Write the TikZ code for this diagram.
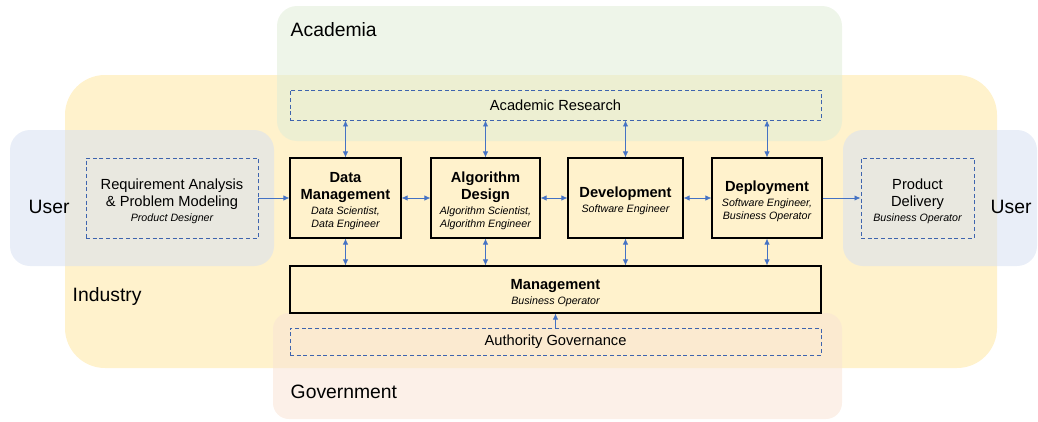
\documentclass[tikz,border=0pt]{standalone}
\usepackage{fontspec}
\setmainfont{Liberation Sans}
\usetikzlibrary{arrows.meta}
\definecolor{industry}{HTML}{FFF2CC}
\definecolor{academia}{HTML}{E0EDD7}
\definecolor{government}{HTML}{F9E4D5}
\definecolor{userbg}{HTML}{D7E0F2}
\definecolor{dashblue}{HTML}{3E64AE}
\definecolor{linkblue}{HTML}{4472C4}
\tikzset{>={Latex[length=4.5pt,width=4pt]}}
\newcommand{\rolefont}{\fontsize{8}{9.75}\selectfont\mdseries\itshape}
\newcommand{\roles}[1]{{\rolefont\begin{tabular}[t]{@{}c@{}}#1\end{tabular}}}
\newcommand{\toppad}{\rule{0pt}{14pt}}

\begin{document}
\begin{tikzpicture}[x=0.75pt,y=-0.75pt,
  region/.style={opacity=0.55},
  regionlabel/.style={anchor=west, font=\fontsize{14.5}{17}\selectfont},
  rolebox/.style={draw=black, line width=0.8pt, inner sep=2pt, align=center,
    font=\fontsize{11}{12.75}\selectfont\bfseries},
  taskbox/.style={draw=dashblue, line width=0.7pt, dash pattern=on 3pt off 2pt,
    inner sep=2pt, align=center, font=\fontsize{11}{12.75}\selectfont},
  link/.style={color=linkblue, line width=0.6pt}]
\useasboundingbox (0,0) rectangle (1038,421);
% backgrounds
\fill[industry, rounded corners=30pt] (65,75) rectangle (997,368);
\fill[academia, region, rounded corners=15pt] (277,6) rectangle (842,141);
\fill[government, region, rounded corners=12pt] (273,313) rectangle (842,419);
\fill[userbg, region, rounded corners=15pt] (10,130) rectangle (274,266);
\fill[userbg, region, rounded corners=15pt] (843,130) rectangle (1037,266);
\node[regionlabel] (academia) at (286,30) {Academia};
\node[regionlabel] (industry) at (68,296) {Industry};
\node[regionlabel] (government) at (286,392) {Government};
\node[regionlabel] (userl) at (24,207) {User};
\node[regionlabel] (userr) at (986,207) {User};
% tasks
\node[taskbox, minimum width=398.25pt, minimum height=22.5pt] (ar) at (555.5,105) {Academic Research};
\node[taskbox, minimum width=398.25pt, minimum height=20.25pt] (ag) at (555.5,341.5) {Authority Governance};
\node[taskbox, minimum width=129pt, minimum height=60pt] (req) at (172,198)
  {\toppad Requirement Analysis\\\& Problem Modeling\\[-1.5pt]\roles{Product Designer}};
\node[taskbox, minimum width=84.75pt, minimum height=60pt] (pd) at (917.5,198)
  {\toppad Product\\Delivery\\[-1.5pt]\roles{Business Operator}};
% roles
\node[rolebox, minimum width=83.25pt, minimum height=60pt] (dm) at (345.5,198)
  {\toppad Data\\Management\\[-1.5pt]\roles{Data Scientist,\\Data Engineer}};
\node[rolebox, minimum width=81.75pt, minimum height=60pt] (ad) at (485.5,198)
  {\toppad Algorithm\\Design\\[-1.5pt]\roles{Algorithm Scientist,\\Algorithm Engineer}};
\node[rolebox, minimum width=86.25pt, minimum height=60pt] (dev) at (625.5,198)
  {\toppad Development\\[-1.5pt]\roles{Software Engineer}};
\node[rolebox, minimum width=82.5pt, minimum height=60pt] (dep) at (767,198)
  {\toppad Deployment\\[-1.5pt]\roles{Software Engineer,\\Business Operator}};
\node[rolebox, minimum width=398.25pt, minimum height=35.25pt] (mg) at (555.5,289.5)
  {\toppad Management\\[-1.5pt]\roles{Business Operator}};
% links
\path[link]
  (req) edge[->] (dm)
  (dm) edge[<->] (ad)
  (ad) edge[<->] (dev)
  (dev) edge[<->] (dep)
  (dep) edge[->] (pd)
  (ag.north) edge[->] (mg.south);
\foreach \n in {dm,ad,dev,dep}{
  \path[link]
    (\n.north) edge[<->] (\n.north |- ar.south)
    (\n.south) edge[<->] (\n.south |- mg.north);
}
\end{tikzpicture}
\end{document}
